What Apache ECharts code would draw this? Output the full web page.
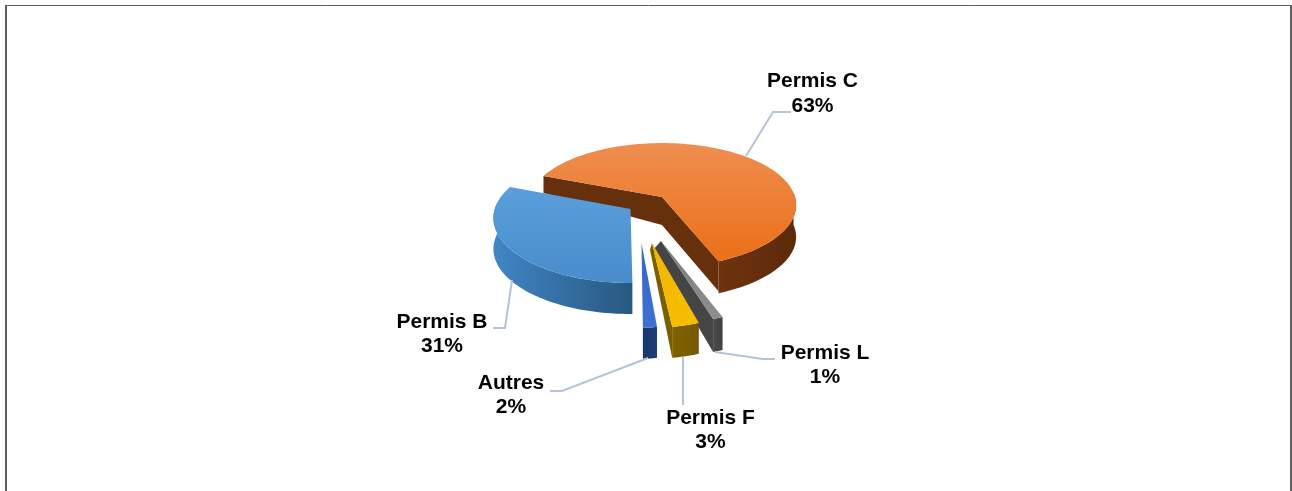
<!DOCTYPE html>
<html><head><meta charset="utf-8">
<style>html,body{margin:0;padding:0;background:#fff}#c{width:1292px;height:491px}</style>
<script src="https://cdn.jsdelivr.net/npm/echarts@6/dist/echarts.min.js"></script>
</head><body><div id="c"></div>
<script>
// Clockwise from the first slice
var categories = ['Permis C', 'Permis L', 'Permis F', 'Autres', 'Permis B'];
var shares = [63, 1, 3, 2, 31];
var firstAngle = 200.9;
var drawOrder = [0, 4, 1, 2, 3];

// Projected geometry of each exploded slice (tilted, perspective view)
var sliceGeom = [
  {ax:662, ay:197, rx:133, ry:62, k:.13, depth:32, d0:17, dA:28, d1:30, faces:[0,1], ax2:662,
   top:['#EE8E50','#EB6F17'], rim:['#6E330F','#5C2A0A'], face:'#67300C', rimDir:0},
  {ax:661, ay:241, rx:146, ry:74, k:.12, depth:33, d1:33, dA:9, faces:[1], ax2:653,
   top:['#7A7A7A','#8E8E8E'], rim:['#4A4A4A','#414141'], face:'#454545', rimDir:0},
  {ax:652, ay:243, rx:130, ry:75, k:.13, depth:31, d1:31, dA:7, faces:[1], ax2:650,
   top:['#F0B400','#F6BF00'], rim:['#806300','#735800'], face:'#7A5E00', rimDir:0},
  {ax:641.5, ay:243, rx:100, ry:75, k:.13, depth:31, faces:[], ax2:641.5,
   top:['#3467C4','#3F72D0'], rim:['#173668','#1C3F78'], face:'#1C3F78', rimDir:0},
  {ax:630.5, ay:209, rx:135.8, ry:64.9, k:.14, depth:31, faces:[], ax2:630.5,
   top:['#5A9EDC','#4A8CCB'], rim:['#28587F','#4186C6'], face:'#2F6A9F', rimDir:1}
];
var labelPos = [[812.5, 93.5], [825, 365], [710.5, 430], [511, 395], [442, 334]];
var leaders = [
  [[746,156],[773,112],[791,112]],
  [[715,352],[763,359],[775,359]],
  [[683,357],[683,405]],
  [[648,358],[562,391],[550,391]],
  [[512,280],[505,328],[493,328]]
];

var total = shares.reduce(function(a,b){return a+b;},0);
var starts = [], acc = firstAngle;
shares.forEach(function(v){ starts.push(acc); acc += v/total*360; });

function rad(d){return d*Math.PI/180;}
function rimPt(g,t){
  var a=rad(t), p=1+g.k*Math.sin(a);
  return [g.ax+g.rx*Math.cos(a)*p, g.ay+g.ry*Math.sin(a)*p];
}
function lg(x0,y0,x1,y1,c){return {type:'linear',x:x0,y:y0,x2:x1,y2:y1,colorStops:[{offset:0,color:c[0]},{offset:1,color:c[1]}]};}

function renderItem(params, api){
  var i = api.value(0), share = api.value(1);
  var g = sliceGeom[i], t0 = starts[i], t1 = t0 + share/total*360;
  var kids = [], n = Math.max(4, Math.ceil((t1-t0)/2)), arc = [], s;
  for(s=0;s<=n;s++){ arc.push(t0+(t1-t0)*s/n); }
  var p0 = rimPt(g,t0), p1 = rimPt(g,t1);
  var apexBottom = [g.ax2, g.ay+(g.dA||0)];
  // radial faces
  if(g.faces.indexOf(0)>=0){
    kids.push({type:'polygon',shape:{points:[p0,[g.ax,g.ay],apexBottom,[p0[0],p0[1]+g.d0]]},style:{fill:g.face}});
  }
  if(g.faces.indexOf(1)>=0){
    kids.push({type:'polygon',shape:{points:[[g.ax,g.ay],p1,[p1[0],p1[1]+g.d1],apexBottom]},style:{fill:g.face}});
  }
  // outer wall, only its front part is visible
  var vis = arc.filter(function(t){return Math.sin(rad(t))>=-0.1;});
  var upper = vis.map(function(t){return rimPt(g,t);});
  var lower = upper.slice().reverse().map(function(q){return [q[0],q[1]+g.depth];});
  kids.push({type:'polygon',shape:{points:upper.concat(lower)},
    style:{fill: g.rimDir? lg(1,0,0,0,g.rim): lg(0,0,1,0,g.rim)}});
  // top face
  var top = [[g.ax,g.ay]].concat(arc.map(function(t){return rimPt(g,t);}));
  kids.push({type:'polygon',shape:{points:top},style:{fill:lg(0,0,0,1,g.top)}});
  // leader line
  kids.push({type:'polyline',shape:{points:leaders[i]},style:{fill:null,stroke:'#B4C3D6',lineWidth:2}});
  // label
  kids.push({type:'text',style:{
    text: categories[i]+'\n'+share+'%',
    x: labelPos[i][0], y: labelPos[i][1],
    align:'center', verticalAlign:'middle',
    font:'bold 21px "Liberation Sans", Arial, sans-serif',
    lineHeight:24.5, fill:'#000'
  }});
  return {type:'group',children:kids};
}

var chart = echarts.init(document.getElementById('c'),null,{renderer:'canvas'});
chart.setOption({
  animation:false,
  backgroundColor:'#fff',
  graphic:[
    {type:'line',shape:{x1:6,y1:5,x2:6,y2:491},style:{stroke:'#5f5f5f',lineWidth:2},silent:true},
    {type:'line',shape:{x1:5,y1:5.5,x2:1292,y2:5.5},style:{stroke:'#5f5f5f',lineWidth:1},silent:true},
    {type:'line',shape:{x1:1291,y1:5,x2:1291,y2:491},style:{stroke:'#5f5f5f',lineWidth:2},silent:true}
  ],
  series:[{
    type:'custom',
    coordinateSystem:'none',
    renderItem:renderItem,
    silent:true,
    data: drawOrder.map(function(i){return [i, shares[i]];})
  }]
});
</script></body></html>
